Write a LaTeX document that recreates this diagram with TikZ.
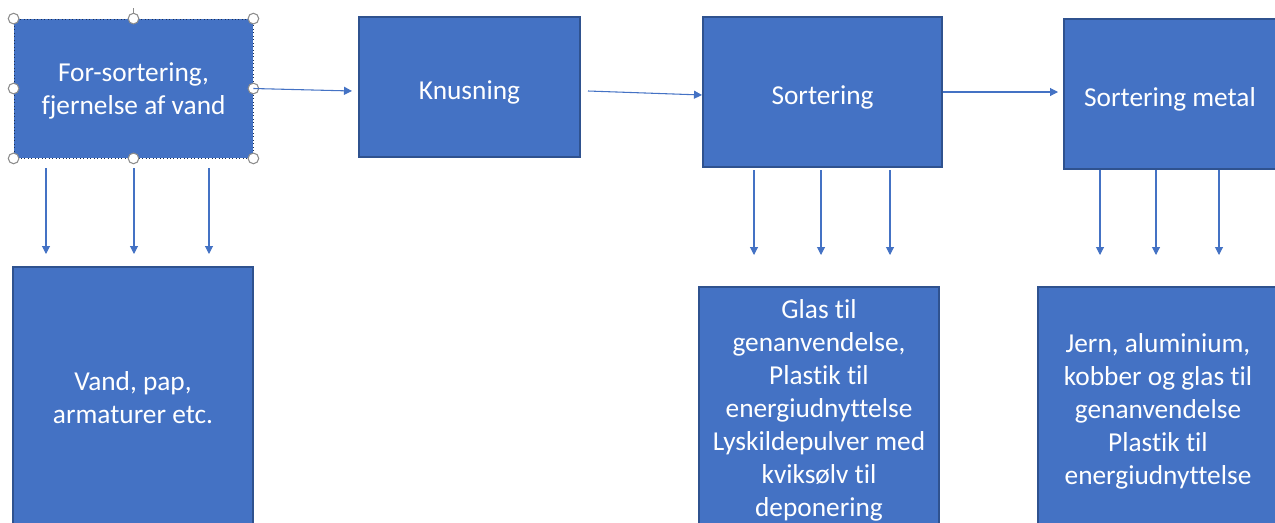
\documentclass[tikz,border=0pt]{standalone}
\usepackage{fontspec}
\setmainfont{Carlito}[Ligatures=NoCommon]
\usetikzlibrary{arrows.meta}
\definecolor{boxblue}{HTML}{4472C4}
\definecolor{boxedge}{HTML}{2F528F}
\definecolor{handlegray}{HTML}{8C8C8C}
\newcommand\lift[1]{\rule{0pt}{#1}}
\tikzset{
  stepbox/.style={draw=boxedge, line width=1.1pt, fill=boxblue, text=white,
    align=center, inner sep=0pt, font=\fontsize{20.5}{24.7}\selectfont},
  oneline/.style={text height=23pt, text depth=4pt},
  selected/.style={draw=boxedge!60!black, line width=0.6pt, dotted},
  boxsize/.style 2 args={minimum width={#1*0.75pt}, minimum height={#2*0.75pt}},
  flow/.style={draw=boxblue, line width=0.8pt, -{Triangle[width=6pt,length=6pt]}},
  handle/.style={circle, draw=handlegray, fill=white, line width=0.8pt,
    minimum size=8pt, inner sep=0pt}
}

\begin{document}
\begin{tikzpicture}[x=0.75pt,y=-0.75pt]
\useasboundingbox (0,0) rectangle (1275,522);

% process steps
\node[stepbox, selected, boxsize={239}{139}] (pre) at (133.5,88.5) {\lift{17.5pt}For-sortering,\\fjernelse af vand};
\node[stepbox, oneline, boxsize={221}{140}] (knus) at (469.5,87) {Knusning};
\node[stepbox, oneline, boxsize={239}{150}] (sort) at (822.5,92) {Sortering};
\node[stepbox, oneline, boxsize={212}{150}] (metal) at (1170,94) {Sortering metal};

% outputs
\node[stepbox, boxsize={240}{262}] (rest) at (133,398) {Vand, pap,\\armaturer etc.};
\node[stepbox, boxsize={240}{244}] (glas) at (819,409)
  {\lift{16pt}Glas til\\genanvendelse,\\Plastik til\\energiudnyttelse\\Lyskildepulver med\\kviksølv til\\deponering};
\node[stepbox, boxsize={240}{242}] (jern) at (1158,408)
  {\lift{19pt}Jern, aluminium,\\kobber og glas til\\genanvendelse\\Plastik til\\energiudnyttelse};

% selection handles
\draw[handlegray, line width=0.8pt] (pre.north) -- ++(0,-11);
\foreach \a in {north west,north,north east,west,east,south west,south,south east}
  \node[handle] at (pre.\a) {};

% flow between steps
\coordinate (knusin) at (352,91);
\coordinate (knusout) at (588,91);
\coordinate (sortin) at (702,95);
\coordinate (metalin) at (1058,92);
\draw[flow] (pre.east) -- (knusin);
\draw[flow] (knusout) -- (sortin);
\draw[flow] (sort.east) -- (metalin);

% flow down to outputs
\foreach \x [count=\i] in {46,134,209} {
  \coordinate (pa\i) at (\x,168);
  \coordinate (pb\i) at (\x,254);
  \draw[flow] (pa\i) -- (pb\i);
}
\foreach \x [count=\i] in {754,821,890} {
  \coordinate (sa\i) at (\x,170);
  \coordinate (sb\i) at (\x,255);
  \draw[flow] (sa\i) -- (sb\i);
}
\foreach \x [count=\i] in {1100,1156,1219} {
  \coordinate (ma\i) at (\x,170);
  \coordinate (mb\i) at (\x,255);
  \draw[flow] (ma\i) -- (mb\i);
}
\end{tikzpicture}
\end{document}
